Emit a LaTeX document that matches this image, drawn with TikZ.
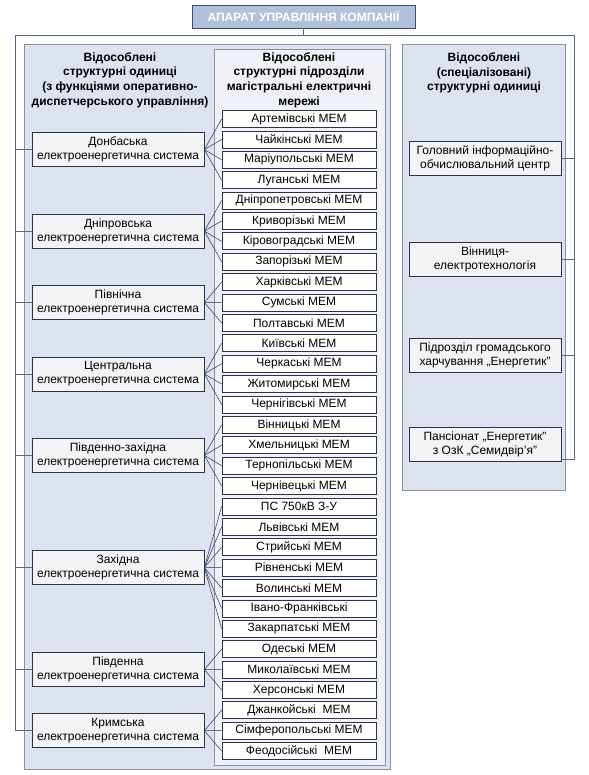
\documentclass[tikz,border=0pt]{standalone}
\usepackage{fontspec}
\setmainfont{Liberation Sans}
\usetikzlibrary{calc}
\definecolor{panelfill}{HTML}{DCE3EF}
\definecolor{panelline}{HTML}{8791A8}
\definecolor{innerfill}{HTML}{EFF1F6}
\definecolor{boxline}{HTML}{2A334D}
\definecolor{sysfill}{HTML}{F3F3F5}
\definecolor{titlefill}{HTML}{B3C0D9}
\definecolor{titleline}{HTML}{3E4D75}
\definecolor{connline}{HTML}{5C6785}
\begin{document}
\begin{tikzpicture}[x=1pt,y=-1pt,
  font=\fontsize{12}{14}\selectfont,
  panel/.style={draw=panelline,fill=panelfill,line width=0.9pt},
  innerpanel/.style={draw=panelline,fill=innerfill,line width=0.9pt},
  mem/.style={draw=boxline,fill=white,line width=0.7pt,minimum width=154pt,minimum height=17pt,inner sep=0pt,font=\fontsize{12}{14}\selectfont},
  sys/.style={draw=boxline,fill=sysfill,line width=0.7pt,minimum width=172pt,minimum height=34pt,inner sep=0pt,align=center,font=\fontsize{12}{14}\selectfont},
  spec/.style={draw=boxline,fill=sysfill,line width=0.7pt,minimum width=152pt,minimum height=34pt,inner sep=0pt,align=center,font=\fontsize{12}{14}\selectfont},
  head/.style={align=center,font=\bfseries\fontsize{12}{14.6}\selectfont,inner sep=0pt},
  titlebox/.style={draw=titleline,fill=titlefill,line width=0.9pt,text=white,font=\bfseries\fontsize{12}{13}\selectfont,minimum width=223pt,minimum height=23pt,inner sep=0pt},
  conn/.style={draw=connline,line width=0.8pt},
  fan/.style={draw=boxline,line width=0.5pt}]
\useasboundingbox (0,0) rectangle (588,775);
% panels
\path[panel] (24,44) rectangle (390,769);
\path[innerpanel] (214,49) rectangle (385,765);
\path[panel] (402,44) rectangle (565,490);
% title
\node[titlebox] (title) at (303.5,16.5) {АПАРАТ УПРАВЛІННЯ КОМПАНІЇ};
% headers
\node[head] (hl) at (120,80) {Відособлені\\структурні одиниці\\(з функціями оперативно-\\диспетчерського управління)};
\node[head] (hm) at (299,80) {Відособлені\\структурні підрозділи\\магістральні електричні\\мережі};
\node[head] (hr) at (484,73) {Відособлені\\(спеціалізовані)\\структурні одиниці};
% MEM boxes
\foreach \t [count=\i from 0] in {Артемівські МЕМ,Чайкінські МЕМ,Маріупольські МЕМ,Луганські МЕМ,Дніпропетровські МЕМ,Криворізькі МЕМ,Кіровоградські МЕМ,Запорізькі МЕМ,Харківські МЕМ,Сумські МЕМ,Полтавські МЕМ,Київські МЕМ,Черкаські МЕМ,Житомирські МЕМ,Чернігівські МЕМ,Вінницькі МЕМ,Хмельницькі МЕМ,Тернопільські МЕМ,Чернівецькі МЕМ,ПС 750кВ З-У,Львівські МЕМ,Стрийські МЕМ,Рівненські МЕМ,Волинські МЕМ,Івано-Франківські,Закарпатські МЕМ,Одеські МЕМ,Миколаївські МЕМ,Херсонські МЕМ,Джанкойські\ \ МЕМ,Сімферопольські МЕМ,Феодосійські\ \ МЕМ}
  \node[mem] (m\i) at (299,{119+20.39*\i}) {\t};
% system boxes
\node[sys] (s1) at (118,149.6) {Донбаська\\електроенергетична система};
\node[sys] (s2) at (118,231.1) {Дніпровська\\електроенергетична система};
\node[sys] (s3) at (118,302.5) {Північна\\електроенергетична система};
\node[sys] (s4) at (118,373.9) {Центральна\\електроенергетична система};
\node[sys] (s5) at (118,455.4) {Південно-західна\\електроенергетична система};
\node[sys] (s6) at (118,567.6) {Західна\\електроенергетична система};
\node[sys] (s7) at (118,669.5) {Південна\\електроенергетична система};
\node[sys] (s8) at (118,730.7) {Кримська\\електроенергетична система};
% specialised boxes
\node[spec] (r1) at (485,158.5) {Головний інформаційно-\\обчислювальний центр};
\node[spec] (r2) at (485,259) {Вінниця-\\електротехнологія};
\node[spec] (r3) at (485,355.5) {Підрозділ громадського\\харчування „Енергетик"};
\node[spec] (r4) at (485,444.5) {Пансіонат „Енергетик"\\з ОзК „Семидвір'я"};
% fan connectors
\foreach \s/\a/\b in {s1/0/3,s2/4/7,s3/8/10,s4/11/14,s5/15/18,s6/19/25,s7/26/28,s8/29/31}
  \foreach \k in {\a,...,\b}
    \draw[fan] (\s.east) -- (m\k.west);
% hierarchy connectors
\coordinate (lt) at (15,35);
\coordinate (rt) at (574,35);
\coordinate (r4c) at ($(r4.south east)+(0,-2)$);
\draw[conn] (title.south) -- (title.south |- lt);
\draw[conn] (lt) -- (rt);
\draw[conn] (lt) |- (s8.west);
\foreach \k in {1,...,7}
  \draw[conn] (s\k.west -| lt) -- (s\k.west);
\draw[conn] (rt) |- (r4c);
\foreach \k in {1,2,3}
  \draw[conn] (r\k.east -| rt) -- (r\k.east);
\end{tikzpicture}
\end{document}
